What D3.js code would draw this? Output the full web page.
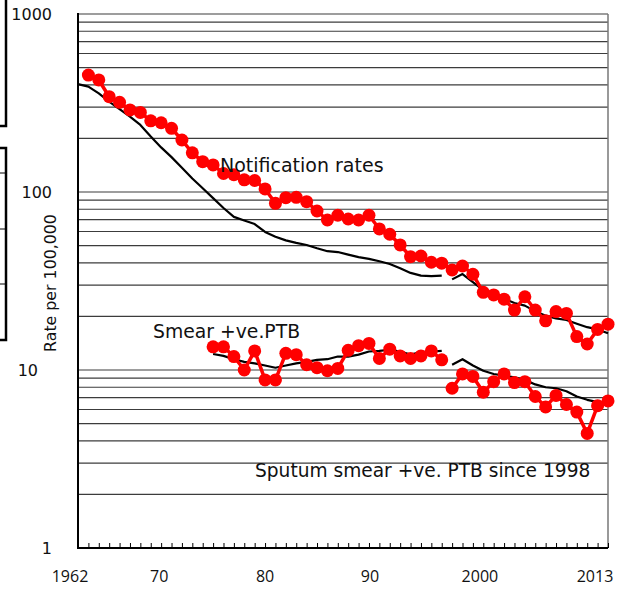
<!DOCTYPE html>
<html><head><meta charset="utf-8">
<script src="https://cdn.jsdelivr.net/npm/d3@7"></script>
<style>html,body{margin:0;padding:0;background:#fff;}svg{display:block;}</style>
</head><body>
<script>
// ---- data ----
const notifYears = d3.range(1963, 2014);
const notifRates = [454,426,343,319,289,280,251,245,228,196,166,148,142,127,125,117,116,104,
  86.4,92.9,93.3,88.2,78.2,69.6,74,70.5,69.6,74,62,57.9,50.4,43.3,43.7,40.3,39.8,36.5,38.4,34.5,
  27.3,26.4,25,21.7,25.8,21.7,18.9,21.3,20.8,15.4,14,16.9,18.1];
const notifTrendYearsA = d3.range(1962, 1998);
const notifTrendA = [404,391,358,322,292,265,238,205,178,157,137,119,105,92.4,81.3,72.5,69.2,66.1,
  59.7,56.1,53.5,51.8,50.4,48.3,46.5,46,44.5,43.1,42.1,40.8,39.4,37.3,35.1,33.9,33.7,33.9];
const notifTrendYearsB = d3.range(1998, 2014);
const notifTrendB = [32.3,34.6,31.2,28.1,26.5,25.1,23.8,23,21.4,20.2,19.5,19.1,18.2,17.4,16.9,16.1];

const smearYearsA = d3.range(1975, 1998);
const smearA = [13.5,13.5,11.9,10,12.8,8.8,8.8,12.4,12.2,10.7,10.3,9.9,10.2,12.9,13.7,14.1,11.6,13.1,12,11.6,12,12.8,11.4];
const smearTrendA = [12.3,12.0,11.5,11.1,10.9,10.6,10.3,10.6,10.9,11.1,11.4,11.5,11.9,11.9,12.2,12.7,12.8,13.0,12.7,12.2,12.6,12.7,12.8];
const smearYearsB = d3.range(1998, 2014);
const smearB = [7.9,9.5,9.2,7.5,8.6,9.5,8.5,8.6,7.1,6.2,7.2,6.4,5.8,4.4,6.3,6.7];
const smearTrendB = [10.7,11.5,10.6,9.9,9.5,9.3,9.1,8.8,8.3,8.0,7.9,7.6,7.1,6.8,6.6,6.45];

const xLabelYears = [1962, 1970, 1980, 1990, 2000, 2013];
const xLabelTexts = ["1962", "70", "80", "90", "2000", "2013"];
const yLabelValues = [1, 10, 100, 1000];
const yLabelTexts = ["1", "10", "100", "1000"];

// ---- chart ----
const W = 630, H = 589;
const svg = d3.select("body").append("svg").attr("width", W).attr("height", H);
const x = d3.scaleLinear().domain([1962, 2013]).range([78, 608]);
const y = d3.scaleLog().domain([1, 1000]).range([548, 14]);

// left-edge artifact boxes
const art = svg.append("g").attr("stroke", "#000").attr("fill", "none");
art.append("rect").attr("x", -10).attr("y", -10).attr("width", 16).attr("height", 136).attr("stroke-width", 2.5);
art.append("rect").attr("x", -10).attr("y", 148).attr("width", 16).attr("height", 192).attr("stroke-width", 2.5);
[173, 229, 284].forEach(v => art.append("line").attr("x1", 0).attr("x2", 6).attr("y1", v).attr("y2", v).attr("stroke-width", 1));

// gridlines
const gridVals = y.ticks().filter(v => v > 1);
svg.append("g").selectAll("line").data(gridVals).join("line")
  .attr("x1", x(1962)).attr("x2", x(2013))
  .attr("y1", d => y(d)).attr("y2", d => y(d))
  .attr("stroke", "#3c3c3c").attr("stroke-width", 1.2);

// right border
svg.append("line").attr("x1", x(2013)).attr("x2", x(2013)).attr("y1", y(1000)).attr("y2", y(1))
  .attr("stroke", "#777").attr("stroke-width", 1.5);

// bottom axis with year ticks
const xAxis = d3.axisBottom(x).tickValues(d3.range(1962, 2014)).tickSize(-5).tickFormat("");
const gx = svg.append("g").attr("transform", `translate(0,${y(1)})`).call(xAxis);
gx.select(".domain").attr("stroke", "#000").attr("stroke-width", 2).attr("d", `M${x(1962)},0H${x(2013)}`);
gx.selectAll(".tick line").attr("stroke", "#000").attr("stroke-width", 1);

// left axis
svg.append("line").attr("x1", x(1962)).attr("x2", x(1962)).attr("y1", y(1000) - 1).attr("y2", y(1) + 1)
  .attr("stroke", "#000").attr("stroke-width", 2);

// x labels
const xNudge = [-8, -2, 0, 1, 7, -13];
svg.append("g").selectAll("text").data(xLabelYears).join("text")
  .attr("x", (d, i) => x(d) + xNudge[i]).attr("y", 582)
  .attr("text-anchor", "middle").attr("font-family", "'Open Sans', sans-serif").attr("font-size", 16)
  .attr("fill", "#111").text((d, i) => xLabelTexts[i]);

// y labels
const yLabelX = [52, 38, 52, 52];
svg.append("g").selectAll("text").data(yLabelValues).join("text")
  .attr("x", (d, i) => yLabelX[i]).attr("y", d => y(d)).attr("dy", "0.36em")
  .attr("text-anchor", "end").attr("font-family", "'DejaVu Sans', sans-serif").attr("font-size", 16)
  .attr("fill", "#111").text((d, i) => yLabelTexts[i]);

// y title
svg.append("text").attr("transform", "translate(56,283) rotate(-90)")
  .attr("text-anchor", "middle").attr("font-family", "'DejaVu Sans', sans-serif").attr("font-size", 15.8)
  .attr("fill", "#111").text("Rate per 100,000");

// lines
const line = d3.line().x(d => x(d[0])).y(d => y(d[1]));
const zip = (a, b) => a.map((v, i) => [v, b[i]]);
function blackLine(data) {
  svg.append("path").datum(data).attr("d", line).attr("fill", "none")
    .attr("stroke", "#000").attr("stroke-width", 2.2).attr("stroke-linejoin", "round");
}
blackLine(zip(notifTrendYearsA, notifTrendA));
blackLine(zip(notifTrendYearsB, notifTrendB));
blackLine(zip(smearYearsA, smearTrendA));
blackLine(zip(smearYearsB, smearTrendB));

function redSeries(data) {
  svg.append("path").datum(data).attr("d", line).attr("fill", "none")
    .attr("stroke", "#ff0000").attr("stroke-width", 3.5).attr("stroke-linejoin", "round");
  svg.append("g").selectAll("circle").data(data).join("circle")
    .attr("cx", d => x(d[0])).attr("cy", d => y(d[1])).attr("r", 6.5).attr("fill", "#ff0000");
}
redSeries(zip(notifYears, notifRates));
redSeries(zip(smearYearsA, smearA));
redSeries(zip(smearYearsB, smearB));

// annotations
const ann = svg.append("g").attr("font-family", "'DejaVu Sans', sans-serif").attr("fill", "#111");
ann.append("text").attr("x", 220).attr("y", 172).attr("font-size", 19).text("Notification rates");
ann.append("text").attr("x", 153).attr("y", 338).attr("font-size", 18.8).text("Smear +ve.PTB");
ann.append("text").attr("x", 255).attr("y", 477).attr("font-size", 18.6).text("Sputum smear +ve. PTB since 1998");
</script>
</body></html>
